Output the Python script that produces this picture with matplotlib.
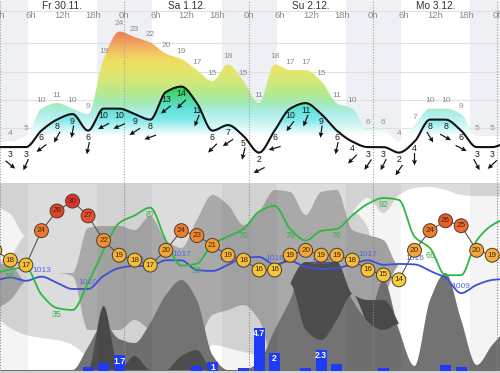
import numpy as np
import matplotlib
matplotlib.use("Agg")
import matplotlib.pyplot as plt
from matplotlib.colors import LinearSegmentedColormap
from matplotlib.patches import Polygon

plt.rcParams['font.family'] = ['Liberation Sans', 'DejaVu Sans']

# ---------------- data (3-hourly grid, hours from Fri 30.11. 0h) ----------------
HOURS = [-1, 2, 5, 8, 11, 14, 17, 20, 23, 26, 29, 32, 35, 38, 41, 44, 47,
         50, 53, 56, 59, 62, 65, 68, 71, 74, 77, 80, 83, 86, 89, 92, 95, 98]

WIND = [3, 3, 3, 6, 8, 9, 6, 10, 10, 9, 8, 13, 14, 11, 6, 7, 5,
        2, 6, 10, 11, 9, 6, 4, 3, 3, 2, 4, 8, 8, 6, 3, 3, 4]
GUST = [4, 4, 5, 10, 11, 10, 9, 19, 24, 23, 22, 20, 19, 17, 15, 18, 15,
        11, 18, 17, 17, 15, 11, 10, 6, 6, 4, 7, 10, 10, 9, 5, 5, 5]
WIND_DIR = [300, 309, 24, 53, 29, 10, 12, 62, 66, 57, 70, 51, 45, 22, 45, 56, 14,
            64, 74, 37, 22, 8, 12, 45, 34, 27, 34, 0, 329, 299, 297, 332, 47, 40]

TEMP = [20, 18, 17, 24, 28, 30, 27, 22, 19, 18, 17, 20, 24, 23, 21, 19, 18,
        16, 16, 19, 20, 19, 19, 18, 16, 15, 14, 20, 24, 26, 25, 20, 19, 18]
HUMIDITY = [53, 55, 56, 42, 35, 34, 48, 65, 79, 83, 87, 70, 57, 58, 68, 72, 76,
            85, 88, 76, 70, 75, 76, 83, 89, 92, 91, 72, 66, 52, 52, 70, 78, 82]
PRESSURE = [1012, 1012.8, 1012, 1013, 1011.5, 1010, 1010, 1013.2, 1015.1, 1015.6,
            1015.6, 1017, 1017, 1014.6, 1014.4, 1015.9, 1017.6, 1017.8, 1016, 1016.8,
            1015.4, 1014.9, 1015.1, 1016.1, 1017, 1015.9, 1016.1, 1016, 1014.4,
            1012.7, 1009, 1011, 1012.2, 1012.5]
PRECIP = [0, 0, 0, 0, 0, 0, 0.4, 0.9, 1.7, 0, 0, 0, 0, 0.5, 1.0, 0, 0.3,
          4.7, 2.0, 0, 0.3, 2.3, 0.8, 0, 0, 0.3, 0, 0, 0, 0.7, 0.4, 0, 0, 0]
HUM_LABEL_IDX = [1, 4, 10, 13, 16, 19, 22, 25, 28, 31]
PRES_LABEL_IDX = [0, 3, 6, 9, 12, 15, 18, 21, 24, 27, 30]

# cloud layers: depth below panel top (0 = top, 186 = bottom)
CLEAR_HI_TOP = [22, 30, 52, 52, 52, 52, 52, 52, 52, 52, 52, 52, 52, 52, 52, 52, 52,
                52, 52, 52, 52, 52, 52, 28, 14, 29, 11, 4, 3, 6, 11, 12, 12, 12]
CLEAR_HI_BOT = [79, 72, 52, 52, 52, 52, 52, 52, 52, 52, 52, 52, 52, 52, 52, 52, 52,
                52, 52, 52, 52, 52, 52, 28, 44, 186, 186, 186, 186, 186, 186, 186, 186, 186]
CLEAR_LO_TOP = [132, 144, 151, 154, 156, 161, 174, 186, 186, 186, 186, 186, 186, 186,
                161, 164, 168, 172, 186, 186, 186, 186, 186, 186, 186, 186, 186, 186,
                186, 186, 186, 186, 186, 186]
MID_TOP = [79, 81, 97, 91, 89, 89, 44, 42, 42, 46, 32, 56, 64, 36, 11, 21, 41,
           28, 6, 8, 31, 8, 6, 46, 51, 56, 82, 82, 82, 82, 82, 82, 82, 82]
MID_BOT = [126, 116, 97, 91, 89, 92, 146, 146, 146, 136, 146, 152, 156, 156, 131, 126, 121,
           136, 176, 176, 176, 176, 176, 176, 146, 116, 82, 82, 82, 82, 82, 82, 82, 82]
LOW_TOP = [186, 186, 186, 186, 186, 186, 163, 140, 155, 159, 139, 111, 96, 116, 171, 186, 186,
           178, 146, 116, 78, 78, 78, 116, 134, 96, 146, 182, 116, 89, 136, 181, 161, 144]
DENSE_TOP = [186, 186, 186, 186, 186, 186, 186, 122, 186, 172, 186, 186, 172, 166, 186, 186, 186,
             186, 186, 100, 78, 78, 78, 110, 116, 116, 140, 186, 186, 186, 186, 186, 186, 186]
DENSE_BOT = [186, 186, 186, 186, 186, 186, 186, 186, 186, 186, 186, 186, 186, 186, 186, 186, 186,
             186, 186, 100, 146, 156, 136, 110, 138, 146, 140, 186, 186, 186, 186, 186, 186, 186]

DAY_LABELS = ["Fr 30.11.", "Sa 1.12.", "Su 2.12.", "Mo 3.12."]
DAY_NOON = [12, 36, 60, 84]
HOUR_TICKS = [0, 6, 12, 18, 24, 30, 36, 42, 48, 54, 60, 66, 72, 78, 84, 90, 96]
HOUR_TEXT = ["0h", "6h", "12h", "18h"] * 4 + ["0h"]
MIDNIGHTS = [0, 24, 48, 72, 96]
NIGHTS = [(-5, 5.4), (18.8, 29.4), (42.8, 53.4), (66.8, 77.4), (90.8, 100)]
GRID_V = [27.75, 21.9, 16.6, 11.6, 6.5]

# light gradient for the gust area, saturated gradient under the wind curve
GUST_COLOR_STOPS = [(5.0, '#ffffff'), (7.0, '#d2f6f4'), (9.0, '#aeefea'), (11.0, '#a4eab8'),
                    (13.0, '#b8e98c'), (15.0, '#d2e878'), (17.0, '#e6e66a'), (19.0, '#f0dc60'),
                    (21.0, '#f3b862'), (23.0, '#f08e5e'), (25.5, '#ea6a52')]
WIND_COLOR_STOPS = [(5.0, '#ffffff'), (6.5, '#c4f4f4'), (8.0, '#7ee9e9'), (10.0, '#5ee2d6'),
                    (12.0, '#4bd990'), (14.0, '#38cf42'), (16.0, '#38cf42')]
TEMP_COLOR_STOPS = [(14, '#f6cf3c'), (18, '#f6bd3a'), (20, '#f6a638'), (22, '#f3932f'),
                    (24, '#f07b30'), (26, '#ec5b2b'), (28, '#e6412c'), (30, '#e2322e')]


def pchip(x, y, xn):
    x = np.asarray(x, float); y = np.asarray(y, float)
    h = np.diff(x); d = np.diff(y) / h
    m = np.zeros_like(y)
    m[0], m[-1] = d[0], d[-1]
    for i in range(1, len(y) - 1):
        if d[i - 1] * d[i] > 0:
            w1 = 2 * h[i] + h[i - 1]; w2 = h[i] + 2 * h[i - 1]
            m[i] = (w1 + w2) / (w1 / d[i - 1] + w2 / d[i])
    idx = np.clip(np.searchsorted(x, xn) - 1, 0, len(h) - 1)
    t = (xn - x[idx]) / h[idx]
    h00 = 2 * t**3 - 3 * t**2 + 1; h10 = t**3 - 2 * t**2 + t
    h01 = -2 * t**3 + 3 * t**2; h11 = t**3 - t**2
    return h00 * y[idx] + h10 * h[idx] * m[idx] + h01 * y[idx + 1] + h11 * h[idx] * m[idx + 1]


def clean(a):
    a.set_xticks([]); a.set_yticks([])
    for s in a.spines.values():
        s.set_visible(False)


hours = np.array(HOURS, float)
hs = np.linspace(HOURS[0], HOURS[-1], 1200)
XMAX = 96.5
FIG_H = 373.0

fig = plt.figure(figsize=(5.0, 3.73), dpi=100, facecolor='#d2d2d2')

# ---------------- top panel: wind / gusts ----------------
VMIN, VMAX = -3.53, 29.75
ax = fig.add_axes([0, (FIG_H - 183) / FIG_H, 1, 183 / FIG_H], facecolor='white')
clean(ax)
for a, b in NIGHTS:
    ax.axvspan(a, b, color='#eef0f5', lw=0, zorder=0)
for gv in GRID_V:
    ax.axhline(gv, color='#e0e0e0', lw=0.8, zorder=1)


def gradient_area(series, stops, z):
    pos = [0.0] + [(v - VMIN) / (VMAX - VMIN) for v, _ in stops] + [1.0]
    col = ['#ffffff'] + [c for _, c in stops] + [stops[-1][1]]
    cmap = LinearSegmentedColormap.from_list('g', list(zip(pos, col)))
    img = cmap(np.linspace(0, 1, 600))[:, None, :]
    top = pchip(hours, series, hs)
    im = ax.imshow(img, extent=[HOURS[0], HOURS[-1], VMIN, VMAX], origin='lower',
                   aspect='auto', zorder=z, interpolation='bilinear')
    poly = Polygon(np.column_stack([np.r_[hs, hs[::-1]], np.r_[top, np.full(len(hs), VMIN)]]),
                   closed=True, facecolor='none', edgecolor='none', transform=ax.transData)
    ax.add_patch(poly)
    im.set_clip_path(poly)
    return top


gradient_area(GUST, GUST_COLOR_STOPS, 2)
wind_s = gradient_area(WIND, WIND_COLOR_STOPS, 2.5)
ax.plot(hs, wind_s, color='#111111', lw=1.5, zorder=4)

for m in MIDNIGHTS:
    ax.axvline(m, color='#a0a0a0', ls=(0, (1, 1.5)), lw=0.8, zorder=3)

sel = [i for i, h in enumerate(HOURS) if 0 < h < XMAX]
for i in sel:
    ax.annotate(str(GUST[i]), (HOURS[i], GUST[i]), xytext=(0, 5.5), textcoords='offset points',
                ha='center', va='center', fontsize=6, color='#8c8c8c', zorder=5)
    ax.annotate(str(WIND[i]), (HOURS[i], WIND[i]), xytext=(0, -5.2), textcoords='offset points',
                ha='center', va='center', fontsize=6.3, color='#1a1a1a', zorder=5)
ang = np.deg2rad(np.array(WIND_DIR, float))
U = -np.sin(ang); V = -np.cos(ang)
ax.quiver(hours[sel], np.array(WIND, float)[sel] - 3.2, U[sel], V[sel], angles='uv',
          scale_units='dots', scale=1 / 12.5, units='dots', width=1.2, headwidth=4.2,
          headlength=4.5, headaxislength=4.0, pivot='middle', color='#111111', zorder=6)

for h, t in zip(HOUR_TICKS, HOUR_TEXT):
    ax.text(h, 26.95, t, ha='center', va='center', fontsize=6.8, color='#8a8a8a', zorder=7)
for h, t in zip(DAY_NOON, DAY_LABELS):
    ax.text(h, 28.65, t, ha='center', va='center', fontsize=7.3, color='#333333', zorder=7)
ax.set_xlim(0, XMAX); ax.set_ylim(VMIN, VMAX)

# ---------------- bottom panel ----------------
rect_b = [0, (FIG_H - 371) / FIG_H, 1, 187 / FIG_H]
axc = fig.add_axes(rect_b, facecolor='#dcdcdc')
clean(axc)
axc.set_xlim(0, XMAX); axc.set_ylim(187, 0)


def band(a, top, bot, color, z):
    t = pchip(hours, top, hs)
    b = pchip(hours, bot, hs) if not np.isscalar(bot) else np.full(len(hs), float(bot))
    a.fill_between(hs, t, b, where=b > t + 0.01, color=color, lw=0, zorder=z, interpolate=True)


band(axc, CLEAR_HI_TOP, CLEAR_HI_BOT, 'white', 1)
band(axc, CLEAR_LO_TOP, 187, 'white', 1)
band(axc, MID_TOP, MID_BOT, '#a9a9a9', 2)
band(axc, LOW_TOP, 187, '#737373', 3)
band(axc, DENSE_TOP, DENSE_BOT, '#4d4d4d', 4)
for a, b in NIGHTS:
    axc.axvspan(a, b, color='black', alpha=0.045, lw=0, zorder=5)
for m in MIDNIGHTS:
    axc.axvline(m, color='#8a8a8a', ls=(0, (1, 1.5)), lw=0.8, zorder=6)

# precipitation
axp = fig.add_axes(rect_b, facecolor='none', sharex=axc)
clean(axp)
axp.set_ylim(0, 20.4)
axp.bar(hours, PRECIP, width=2.1, color='#1e3cf5', lw=0, zorder=2)
for h, p in zip(HOURS, PRECIP):
    if p >= 1:
        axp.annotate(f"{p:g}", (h, p), xytext=(0, -0.8), textcoords='offset points',
                     ha='center', va='top', fontsize=6.2, fontweight='bold', color='white', zorder=3)

# pressure
axpr = fig.add_axes(rect_b, facecolor='none', sharex=axc)
clean(axpr)
axpr.set_ylim(990, 1035.6)
axpr.plot(hs, pchip(hours, PRESSURE, hs), color='#3d4fd6', lw=1.3, zorder=2)
for i in PRES_LABEL_IDX:
    axpr.annotate(f"{PRESSURE[i]:.0f}", (HOURS[i], PRESSURE[i]), xytext=(0, 4.5),
                  textcoords='offset points', ha='center', va='center', fontsize=6,
                  color='#5566e0', zorder=3)

# humidity
axh = fig.add_axes(rect_b, facecolor='none', sharex=axc)
clean(axh)
axh.set_ylim(2.38, 99.27)
axh.plot(hs, pchip(hours, HUMIDITY, hs), color='#2fb83f', lw=1.3, zorder=2)
for i in HUM_LABEL_IDX:
    axh.annotate(f"{HUMIDITY[i]:.0f}", (HOURS[i], HUMIDITY[i]), xytext=(0, -5),
                 textcoords='offset points', ha='center', va='center', fontsize=6.3,
                 color='#3aad4a', zorder=3)

# temperature
axt = fig.add_axes(rect_b, facecolor='none', sharex=axc)
clean(axt)
axt.set_ylim(-4.53, 33.48)
tpos = [(t - 14) / 16 for t, _ in TEMP_COLOR_STOPS]
tcmap = LinearSegmentedColormap.from_list('temp', list(zip(tpos, [c for _, c in TEMP_COLOR_STOPS])))
tcols = [tcmap(np.clip((t - 14) / 16, 0, 1)) for t in TEMP]
axt.plot(hours, TEMP, color='#555555', lw=0.8, zorder=2)
axt.scatter(hours, TEMP, s=10.0 ** 2, c=tcols, edgecolors='#4a3a2a', linewidths=0.7, zorder=3)
for h, t in zip(HOURS, TEMP):
    axt.text(h, t, str(t), ha='center', va='center', fontsize=5.9, color='#3a2a15', zorder=4,
             clip_on=True)

axc.set_xlim(0, XMAX)
fig.savefig('out.png', dpi=100, facecolor=fig.get_facecolor())
